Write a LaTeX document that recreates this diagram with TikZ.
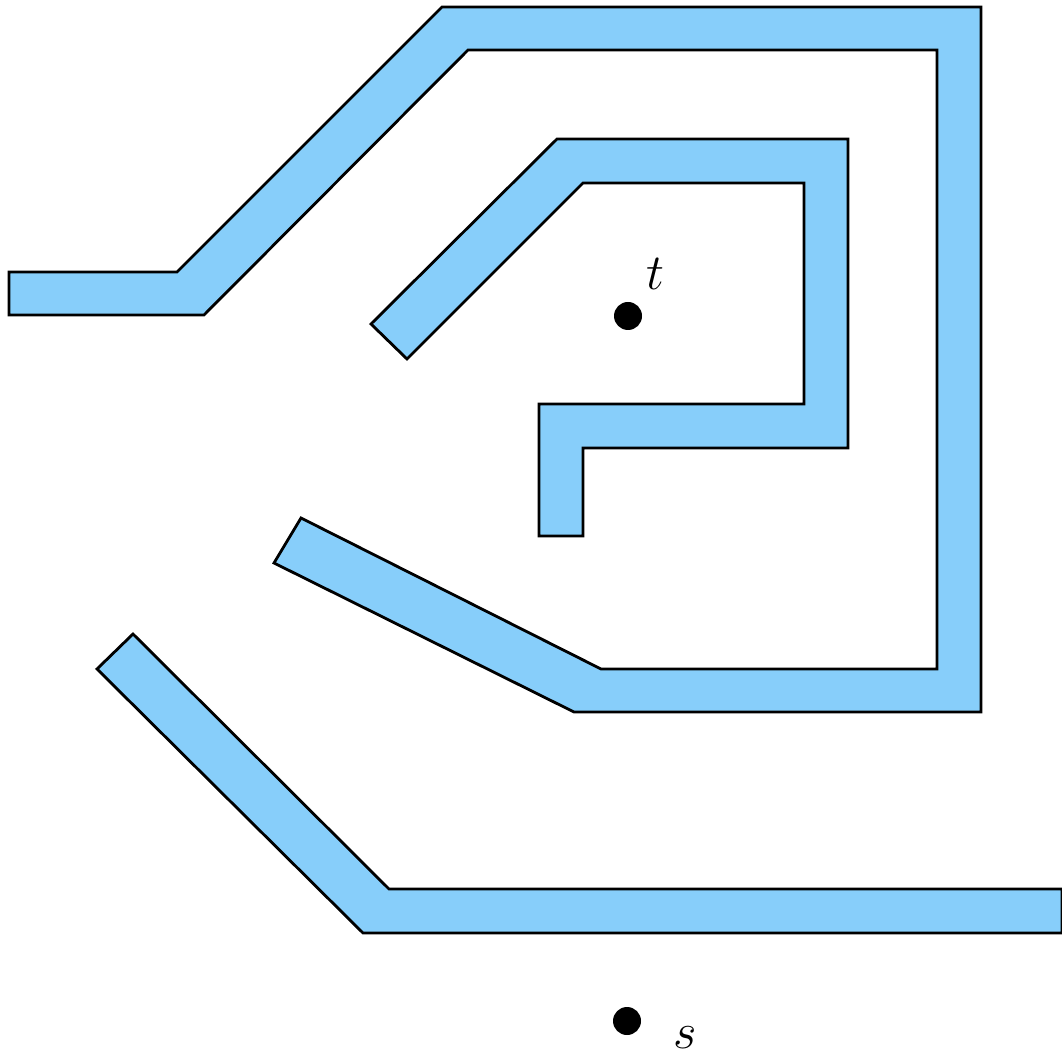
\documentclass[tikz,border=0pt]{standalone}
\usepackage{amsmath,amssymb}
\usepackage{tikz}
\usetikzlibrary{positioning}

\definecolor{wallblue}{RGB}{135,206,250}

\begin{document}
\begin{tikzpicture}[y=-1cm,
    wall/.style={fill=wallblue, draw=black, thick, line join=miter},
    dot/.style={circle, fill=black, inner sep=0pt, minimum size=0.28cm},
    lbl/.style={font=\Large, inner sep=0pt, anchor=base}]
    \useasboundingbox (0,0) rectangle (10.62,10.57);

    % outer wall (left arm, top, right side, lower slant)
    \draw[wall] (0.09,2.72) -- (1.77,2.72) -- (4.42,0.07) -- (9.81,0.07)
      -- (9.81,7.12) -- (5.74,7.12) -- (2.74,5.63) -- (3.01,5.18)
      -- (6.01,6.69) -- (9.37,6.69) -- (9.37,0.50) -- (4.68,0.50)
      -- (2.04,3.15) -- (0.09,3.15) -- cycle;

    % inner wall around t
    \draw[wall] (3.71,3.24) -- (5.57,1.39) -- (8.48,1.39) -- (8.48,4.48)
      -- (5.83,4.48) -- (5.83,5.36) -- (5.39,5.36) -- (5.39,4.04)
      -- (8.04,4.04) -- (8.04,1.83) -- (5.83,1.83) -- (4.07,3.59) -- cycle;

    % bottom wall
    \draw[wall] (0.97,6.69) -- (1.33,6.34) -- (3.89,8.89) -- (10.62,8.89)
      -- (10.62,9.33) -- (3.63,9.33) -- cycle;

    % target and start
    \node[dot] (t) at (6.28,3.16) {};
    \node[lbl] (tlabel) at (6.55,2.90) {$t$};
    \node[dot] (s) at (6.27,10.21) {};
    \node[lbl] (slabel) at (6.85,10.48) {$s$};
\end{tikzpicture}
\end{document}
